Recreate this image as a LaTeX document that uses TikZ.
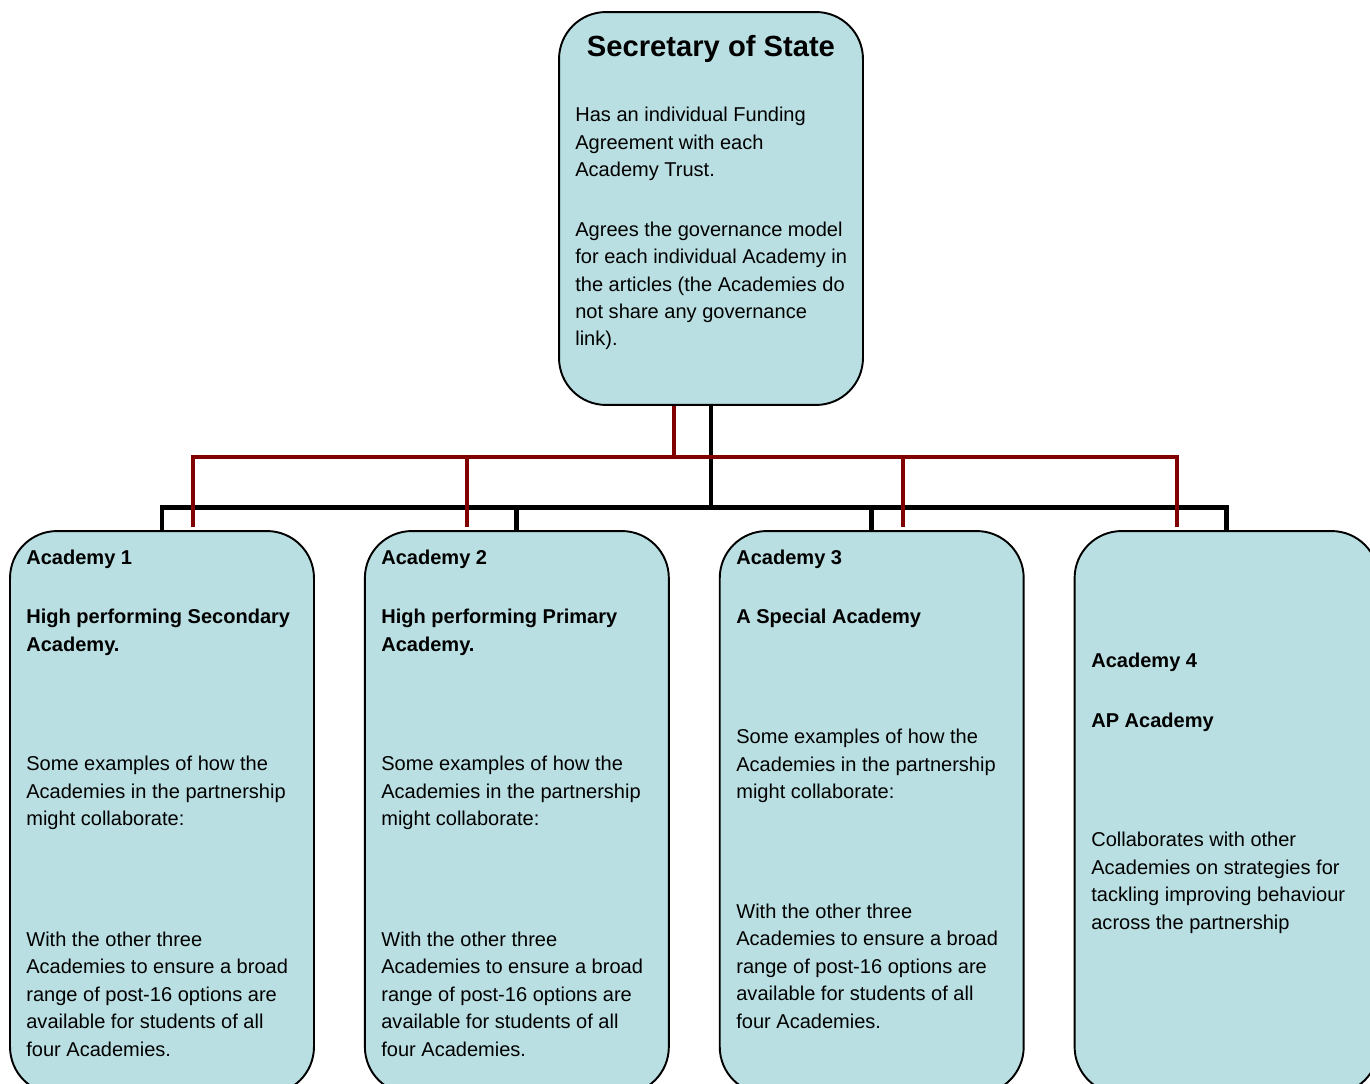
\documentclass[tikz,border=0pt]{standalone}
\usepackage{fontspec}
\setmainfont{Liberation Sans}
\usetikzlibrary{positioning,calc}
\definecolor{boxblue}{RGB}{185,223,226}
\definecolor{linkred}{RGB}{128,0,0}
\tikzset{box/.style={draw, line width=1.1pt, fill=boxblue, rounded corners=.94cm, inner sep=0pt},
  abox/.style={box, minimum width=6.08cm, minimum height=11.26cm},
  txt/.style={anchor=base west, align=left, inner sep=0pt, font=\fontsize{11.4}{15.6}\selectfont},
  trunk/.style={line width=2.8pt},
  link/.style={line width=2.2pt, color=linkred}}
\begin{document}
\begin{tikzpicture}[x=.02cm,y=-.02cm]
\clip (0,0) rectangle (1370,1084);
%the Secretary of State (text nodes sit on the baseline of their last line)
\node[box, minimum width=6.08cm, minimum height=7.86cm] (sos) at (711,208.5) {};
\node[anchor=base, inner sep=0pt, font=\bfseries\fontsize{16.6}{20}\selectfont] (sostitle) at (711,57) {Secretary of State};
\node[txt] (sosfund) at (575,176.5) {Has an individual Funding\\Agreement with each\\Academy Trust.};
\node[txt] (sosgov) at (575,346) {Agrees the governance model\\for each individual Academy in\\the articles (the Academies do\\not share any governance\\link).};
%the four Academies
\node[abox] (ac1) at (162,812.5) {};
\node[abox, right=.98cm of ac1] (ac2) {};
\node[abox, right=.98cm of ac2] (ac3) {};
\node[abox, right=.98cm of ac3] (ac4) {};
%Academies 1 and 2 say the same
\foreach \n/\x/\kind in {1/26/Secondary,2/381/Primary}{
  \node[txt, font=\bfseries\fontsize{11.4}{15.6}\selectfont] (ac\n head) at (\x,564.5) {Academy \n};
  \node[txt, font=\bfseries\fontsize{11.4}{15.6}\selectfont] (ac\n kind) at (\x,651) {High performing \kind\\Academy.};
  \node[txt] (ac\n ex) at (\x,825.5) {Some examples of how the\\Academies in the partnership\\might collaborate:};
  \node[txt] (ac\n post) at (\x,1056) {With the other three\\Academies to ensure a broad\\range of post-16 options are\\available for students of all\\four Academies.};
}
%Academy 3
\node[txt, font=\bfseries\fontsize{11.4}{15.6}\selectfont] (ac3head) at (736,564.5) {Academy 3};
\node[txt, font=\bfseries\fontsize{11.4}{15.6}\selectfont] (ac3kind) at (736,623.5) {A Special Academy};
\node[txt] (ac3ex) at (736,798.5) {Some examples of how the\\Academies in the partnership\\might collaborate:};
\node[txt] (ac3post) at (736,1028) {With the other three\\Academies to ensure a broad\\range of post-16 options are\\available for students of all\\four Academies.};
%Academy 4
\node[txt, font=\bfseries\fontsize{11.4}{15.6}\selectfont] (ac4head) at (1091,667) {Academy 4};
\node[txt, font=\bfseries\fontsize{11.4}{15.6}\selectfont] (ac4kind) at (1091,727) {AP Academy};
\node[txt] (ac4beh) at (1091,929) {Collaborates with other\\Academies on strategies for\\tackling improving behaviour\\across the partnership};
%black tree from the centre
\coordinate (bk) at (711,507.5); \coordinate (rd) at (674,457);
\draw[trunk] (sos.south) -- (bk);
\draw[trunk] (ac1.north) |- (bk) -| (ac4.north);
\draw[trunk] (ac2.north) -- (ac2.north |- bk); \draw[trunk] (ac3.north) -- (ac3.north |- bk);
%red links, off centre
\path ($(ac1.north)+(31,-3)$) coordinate (r1) ($(ac2.north)+(-50,-3)$) coordinate (r2)
  ($(ac3.north)+(31,-3)$) coordinate (r3) ($(ac4.north)+(-50,-3)$) coordinate (r4);
\draw[link] (sos.south -| rd) -- (rd);
\draw[link] (r1) |- (rd) -| (r4);
\draw[link] (r2) -- (r2 |- rd); \draw[link] (r3) -- (r3 |- rd);
\end{tikzpicture}
\end{document}
